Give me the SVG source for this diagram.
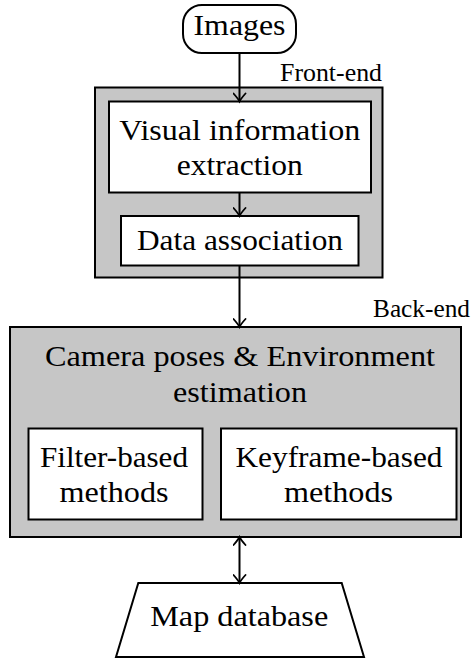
<svg xmlns="http://www.w3.org/2000/svg" width="471" height="661" viewBox="0 0 471 661">
  <defs>
    <style>
      .txt { font-family: "Liberation Serif", "DejaVu Serif", serif; font-size: 30px; fill: #000; text-anchor: middle; }
      .lbl { font-family: "Liberation Serif", "DejaVu Serif", serif; font-size: 25px; fill: #000; text-anchor: end; }
      .frame { fill: #c6c6c6; stroke: #000; stroke-width: 2; }
      .box { fill: #fff; stroke: #000; stroke-width: 2; }
      .edge { fill: none; stroke: #000; stroke-width: 2; }
    </style>
    <marker id="tip" viewBox="-10 -7 12 14" markerWidth="12" markerHeight="14" refX="0" refY="0" orient="auto-start-reverse" markerUnits="userSpaceOnUse">
      <path d="M -8,-6 Q -3,-1.5 0,0 Q -3,1.5 -8,6" fill="none" stroke="#000" stroke-width="1.8" stroke-linecap="round"/>
    </marker>
  </defs>

  <!-- stage frames -->
  <g id="front-end">
    <rect class="frame" x="95" y="87.5" width="287.5" height="190"/>
    <text class="lbl" x="382" y="81" textLength="102" lengthAdjust="spacingAndGlyphs">Front-end</text>
  </g>
  <g id="back-end">
    <rect class="frame" x="10" y="327" width="451" height="210"/>
    <text class="lbl" x="470" y="316.5" textLength="97" lengthAdjust="spacingAndGlyphs">Back-end</text>
    <text class="txt" x="240" y="366" textLength="390" lengthAdjust="spacingAndGlyphs">Camera poses &amp; Environment</text>
    <text class="txt" x="240" y="401.5" textLength="134" lengthAdjust="spacingAndGlyphs">estimation</text>
  </g>

  <g id="images">
    <rect class="box" x="183" y="5" width="113" height="48" rx="19" ry="19"/>
    <text class="txt" x="239.5" y="35" textLength="92" lengthAdjust="spacingAndGlyphs">Images</text>
  </g>

  <g id="visual-extraction">
    <rect class="box" x="109" y="101.5" width="262" height="91"/>
    <text class="txt" x="239.7" y="139.5" textLength="241" lengthAdjust="spacingAndGlyphs">Visual information</text>
    <text class="txt" x="239.7" y="175" textLength="126" lengthAdjust="spacingAndGlyphs">extraction</text>
  </g>

  <g id="data-association">
    <rect class="box" x="121" y="216" width="237.5" height="49.5"/>
    <text class="txt" x="240" y="250" textLength="206" lengthAdjust="spacingAndGlyphs">Data association</text>
  </g>

  <g id="filter-based">
    <rect class="box" x="28.5" y="428.5" width="174" height="91"/>
    <text class="txt" x="114" y="466.5" textLength="148" lengthAdjust="spacingAndGlyphs">Filter-based</text>
    <text class="txt" x="114" y="501.5" textLength="109" lengthAdjust="spacingAndGlyphs">methods</text>
  </g>

  <g id="keyframe-based">
    <rect class="box" x="221" y="428.5" width="235.5" height="91"/>
    <text class="txt" x="339" y="466.5" textLength="207" lengthAdjust="spacingAndGlyphs">Keyframe-based</text>
    <text class="txt" x="338.5" y="501.5" textLength="109" lengthAdjust="spacingAndGlyphs">methods</text>
  </g>

  <g id="map-database">
    <polygon class="box" points="138.3,583 341.7,583 364,657 116,657"/>
    <text class="txt" x="239.2" y="626" textLength="178" lengthAdjust="spacingAndGlyphs">Map database</text>
  </g>

  <!-- connectors -->
  <g id="connectors">
    <line class="edge" x1="239.5" y1="53" x2="239.5" y2="101.5" marker-end="url(#tip)"/>
    <line class="edge" x1="239.5" y1="192.5" x2="239.5" y2="216" marker-end="url(#tip)"/>
    <line class="edge" x1="239.5" y1="265.5" x2="239.5" y2="327" marker-end="url(#tip)"/>
    <line class="edge" x1="239.5" y1="537" x2="239.5" y2="583" marker-start="url(#tip)" marker-end="url(#tip)"/>
  </g>
</svg>
